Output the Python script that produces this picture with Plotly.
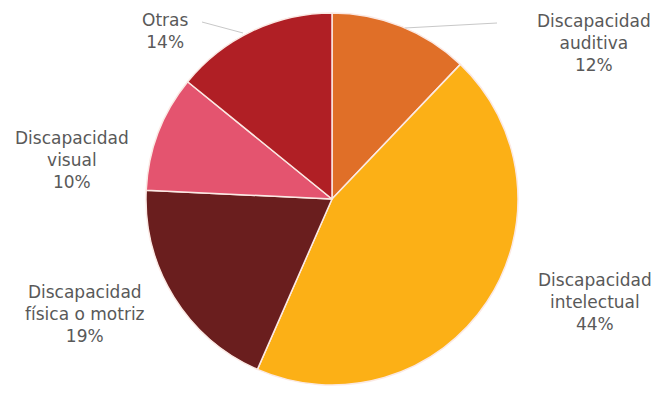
import plotly.graph_objects as go

# slice data, clockwise from 12 o'clock
labels = ['Discapacidad<br>auditiva', 'Discapacidad<br>intelectual',
          'Discapacidad<br>física o motriz', 'Discapacidad<br>visual', 'Otras']
values = [12, 44, 19, 10, 14]
colors = ['#E06F28', '#FCB016', '#6A1E1E', '#E4546F', '#B01F25']

# where each label sits (paper coords) -- picked by eye from the original
label_pos = [(0.887, 0.912), (0.888, 0.258), (0.1165, 0.227), (0.0968, 0.616), (0.2375, 0.942)]

W, H = 661, 396
cx, cy, r = 324, 205, 186   # pie centre / radius in px (y from bottom)

fig = go.Figure()

fig.add_trace(go.Pie(labels=labels,
                     values=values,
                     sort=False,
                     direction='clockwise',
                     rotation=0,
                     marker=dict(colors=colors,
                                 line=dict(color='#FBE9E4', width=1.5)),
                     textinfo='none',
                     hoverinfo='label+percent',
                     showlegend=False,
                     domain=dict(x=[(cx - r) / W, (cx + r) / W],
                                 y=[(cy - r) / H, (cy + r) / H])
                     )
              )

# outside labels with the percentage on the last line
for lab, val, (lx, ly) in zip(labels, values, label_pos):
    fig.add_annotation(x=lx, y=ly, xref='paper', yref='paper',
                       xanchor='center', yanchor='middle',
                       text=f'{lab}<br>{val}%',
                       showarrow=False,
                       align='center',
                       font=dict(family='DejaVu Sans', size=17, color='#595959'))

# faint leader lines for the two top labels
fig.add_shape(type='line', xref='paper', yref='paper',
              x0=0.2935, y0=0.9646, x1=0.3555, y1=0.9369,
              line=dict(color='#C8C8C8', width=1))
fig.add_shape(type='line', xref='paper', yref='paper',
              x0=0.6006, y0=0.9495, x1=0.7398, y1=0.9621,
              line=dict(color='#C8C8C8', width=1))

fig.update_layout(width=W, height=H,
                  margin=dict(l=0, r=0, t=0, b=0),
                  paper_bgcolor='white',
                  plot_bgcolor='white')

fig.write_html("out.html")
